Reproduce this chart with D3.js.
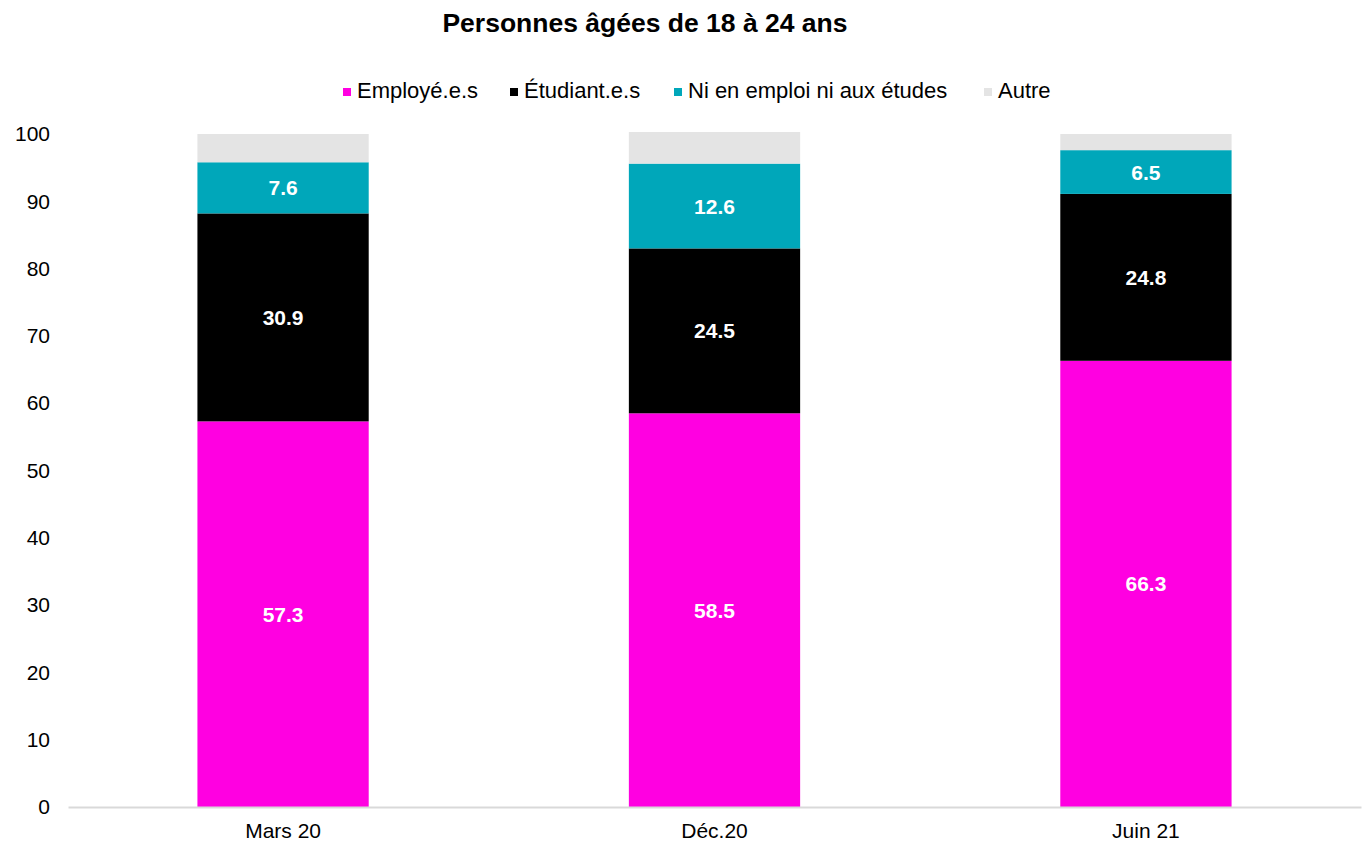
<!DOCTYPE html>
<html>
<head>
<meta charset="utf-8">
<script src="https://cdn.jsdelivr.net/npm/d3@7"></script>
<style>
  body { margin: 0; background: #fff; }
  svg { font-family: "Liberation Sans", Arial, Helvetica, sans-serif; }
</style>
</head>
<body>
<div class="visContainer"></div>
<script>
const categories = ['Mars 20', 'Déc.20', 'Juin 21'];
const seriesNames = ['Employé.e.s', 'Étudiant.e.s', 'Ni en emploi ni aux études', 'Autre'];
const employes = [57.3, 58.5, 66.3];
const etudiants = [30.9, 24.5, 24.8];
const niEmploi = [7.6, 12.6, 6.5];
const autre = [4.2, 4.7, 2.4];
const yTicks = [0, 10, 20, 30, 40, 50, 60, 70, 80, 90, 100];
const colors = ['#ff00e1', '#000000', '#00a7ba', '#e4e4e4'];

const width = 1369;
const height = 844;
const plotLeft = 68, plotRight = 1361, plotTop = 134, plotBottom = 807;

const rows = categories.map((c, i) => ({
    cat: c,
    'Employé.e.s': employes[i],
    'Étudiant.e.s': etudiants[i],
    'Ni en emploi ni aux études': niEmploi[i],
    'Autre': autre[i]
}));
const stacked = d3.stack().keys(seriesNames)(rows);

const xScale = d3.scaleBand()
                 .domain(categories)
                 .range([plotLeft, plotRight])
                 .paddingInner(0.603)
                 .paddingOuter(0.3);
const yScale = d3.scaleLinear()
                 .domain([0, 100])
                 .range([plotBottom, plotTop]);

const svg = d3.select('.visContainer')
              .append('svg')
              .attr('width', width)
              .attr('height', height);

svg.append('text')
   .attr('x', 645)
   .attr('y', 32)
   .attr('text-anchor', 'middle')
   .attr('font-size', 26.5)
   .attr('font-weight', 'bold')
   .text('Personnes âgées de 18 à 24 ans');

// legend
const legendX = [343, 510, 674, 984];
seriesNames.forEach((s, i) => {
    svg.append('rect')
       .attr('x', legendX[i])
       .attr('y', 88)
       .attr('width', 8)
       .attr('height', 8)
       .attr('fill', colors[i]);
    svg.append('text')
       .attr('x', legendX[i] + 14)
       .attr('y', 98)
       .attr('font-size', 22)
       .attr('fill', '#000')
       .text(s);
});

// bars
stacked.forEach((layer, li) => {
    svg.append('g')
       .selectAll('rect')
       .data(layer)
       .enter()
       .append('rect')
       .attr('x', d => xScale(d.data.cat))
       .attr('y', d => yScale(d[1]))
       .attr('width', xScale.bandwidth())
       .attr('height', d => yScale(d[0]) - yScale(d[1]))
       .attr('fill', colors[li]);
    if (li < 3) {
        svg.append('g')
           .selectAll('text')
           .data(layer)
           .enter()
           .append('text')
           .attr('x', d => xScale(d.data.cat) + xScale.bandwidth() / 2)
           .attr('y', d => (yScale(d[0]) + yScale(d[1])) / 2 + 7.5)
           .attr('text-anchor', 'middle')
           .attr('font-size', 21)
           .attr('font-weight', 'bold')
           .attr('fill', '#fff')
           .text(d => (d[1] - d[0]).toFixed(1));
    }
});

// axes
const xAxis = d3.axisBottom(xScale).tickSize(0).tickPadding(16);
svg.append('g')
   .attr('transform', 'translate(0,' + plotBottom + ')')
   .call(xAxis)
   .call(g => g.select('.domain').attr('stroke', '#d9d9d9').attr('stroke-width', 2))
   .call(g => g.selectAll('text').attr('font-size', 21).attr('fill', '#000').attr('font-family', null));

const yAxis = d3.axisLeft(yScale).tickValues(yTicks).tickSize(0).tickPadding(0);
svg.append('g')
   .attr('transform', 'translate(50,0)')
   .call(yAxis)
   .call(g => g.select('.domain').remove())
   .call(g => g.selectAll('text').attr('font-size', 21).attr('fill', '#000').attr('font-family', null));
</script>
</body>
</html>
